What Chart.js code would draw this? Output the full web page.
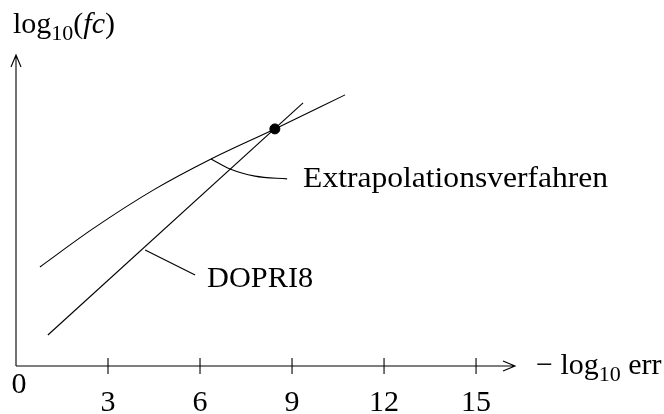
<!DOCTYPE html>
<html>
<head>
<meta charset="utf-8">
<script src="https://cdn.jsdelivr.net/npm/chart.js@4.4.0/dist/chart.umd.min.js"></script>
<style>
  html, body { margin: 0; padding: 0; background: #fff; }
  #wrap { width: 664px; height: 414px; }
</style>
</head>
<body>
<div id="wrap"><canvas id="chart" width="664" height="414"></canvas></div>
<script>
// Werte (x = -log10 err, y = log10(fc))
const xTicks = [3, 6, 9, 12, 15];
const xTickLabels = ['3', '6', '9', '12', '15'];

const dopriX = [1.04, 9.36];
const dopriY = [1.01, 8.58];

const extraX = [0.78, 2.5, 4.5, 6.36, 8.44, 10.73];
const extraY = [3.23, 4.47, 5.75, 6.75, 7.73, 8.84];

// Schnittpunkt
const dotX = [8.44];
const dotY = [7.73];

// Hinweislinien zu den Beschriftungen
const leaderExtraX = [6.36, 6.98, 7.79, 8.84];
const leaderExtraY = [6.75, 6.42, 6.19, 6.10];
const leaderDopriX = [4.21, 5.84];
const leaderDopriY = [3.78, 2.97];

const labelExtra = 'Extrapolationsverfahren';
const labelDopri = 'DOPRI8';

function toPoints(xs, ys) {
    return xs.map((x, i) => ({ x: x, y: ys[i] }));
}

const FONT = '"Liberation Serif", "DejaVu Serif", serif';
const FS = 30;

function lineSet(xs, ys, extra) {
    return Object.assign({
        data: toPoints(xs, ys),
        showLine: true,
        borderColor: '#000',
        borderWidth: 1.1,
        pointRadius: 0,
        fill: false
    }, extra || {});
}

// Text horizontal auf eine Breite strecken (CM-Schrift ist breiter als Times)
function fillStretched(ctx, txt, x, y, width) {
    const w = ctx.measureText(txt).width;
    ctx.save();
    ctx.translate(x, y);
    ctx.scale(width / w, 1);
    ctx.fillText(txt, 0, 0);
    ctx.restore();
}

// Achsen, Pfeile, Ticks und Texte
const axesPlugin = {
    id: 'axesPlugin',
    afterDraw(chart) {
        const ctx = chart.ctx;
        const xs = chart.scales.x;
        const ys = chart.scales.y;
        const x0 = xs.getPixelForValue(0);
        const y0 = ys.getPixelForValue(0);
        const xEnd = xs.getPixelForValue(xs.max);
        const yEnd = ys.getPixelForValue(ys.max);

        ctx.save();
        ctx.strokeStyle = '#000';
        ctx.fillStyle = '#000';
        ctx.lineWidth = 1.1;

        // x-Achse mit Pfeil
        ctx.beginPath();
        ctx.moveTo(x0, y0);
        ctx.lineTo(xEnd, y0);
        ctx.moveTo(xEnd - 12, y0 - 5);
        ctx.lineTo(xEnd, y0);
        ctx.lineTo(xEnd - 12, y0 + 5);
        // y-Achse mit Pfeil
        ctx.moveTo(x0, y0);
        ctx.lineTo(x0, yEnd);
        ctx.moveTo(x0 - 5, yEnd + 12);
        ctx.lineTo(x0, yEnd);
        ctx.lineTo(x0 + 5, yEnd + 12);
        ctx.stroke();

        // Ticks
        ctx.font = FS + 'px ' + FONT;
        ctx.textAlign = 'center';
        ctx.textBaseline = 'alphabetic';
        xTicks.forEach((t, i) => {
            const px = xs.getPixelForValue(t);
            ctx.beginPath();
            ctx.moveTo(px, y0 - 8);
            ctx.lineTo(px, y0 + 8);
            ctx.stroke();
            ctx.fillText(xTickLabels[i], px, y0 + 45);
        });
        ctx.fillText('0', x0 + 3, y0 + 27);

        // Beschriftungen an den Hinweislinien
        ctx.textAlign = 'left';
        const eX = xs.getPixelForValue(leaderExtraX[leaderExtraX.length - 1]);
        const eY = ys.getPixelForValue(leaderExtraY[leaderExtraY.length - 1]);
        fillStretched(ctx, labelExtra, eX + 16, eY + 8, 305);
        const dX = xs.getPixelForValue(leaderDopriX[leaderDopriX.length - 1]);
        const dY = ys.getPixelForValue(leaderDopriY[leaderDopriY.length - 1]);
        fillStretched(ctx, labelDopri, dX + 12, dY + 12, 106);

        // y-Achsentitel: log10(fc)
        let cx = 13;
        const by = 33;
        const reg = FS + 'px ' + FONT;
        const sub = Math.round(FS * 0.72) + 'px ' + FONT;
        const it = 'italic ' + FS + 'px ' + FONT;
        function piece(txt, font, dy) {
            ctx.font = font;
            ctx.fillText(txt, cx, by + (dy || 0));
            cx += ctx.measureText(txt).width;
        }
        piece('log', reg);
        piece('10', sub, 7);
        piece('(', reg);
        piece('fc', it);
        piece(')', reg);

        // x-Achsentitel: − log10 err
        cx = xEnd + 21;
        const by2 = y0 + 8;
        function piece2(txt, font, dy) {
            ctx.font = font;
            ctx.fillText(txt, cx, by2 + (dy || 0));
            cx += ctx.measureText(txt).width;
        }
        piece2('\u2212 log', reg);
        piece2('10', sub, 7);
        piece2(' err', reg);

        ctx.restore();
    }
};

new Chart(document.getElementById('chart'), {
    type: 'scatter',
    data: {
        datasets: [
            lineSet(extraX, extraY, { cubicInterpolationMode: 'monotone' }),
            lineSet(dopriX, dopriY),
            lineSet(leaderExtraX, leaderExtraY, { cubicInterpolationMode: 'monotone' }),
            lineSet(leaderDopriX, leaderDopriY),
            {
                data: toPoints(dotX, dotY),
                pointRadius: 5,
                pointBackgroundColor: '#000',
                pointBorderColor: '#000',
                showLine: false
            }
        ]
    },
    options: {
        responsive: false,
        animation: false,
        layout: { padding: { left: 16, right: 149, top: 55, bottom: 48 } },
        scales: {
            x: { type: 'linear', min: 0, max: 16.27, display: false },
            y: { type: 'linear', min: 0, max: 10.14, display: false }
        },
        plugins: {
            legend: { display: false },
            tooltip: { enabled: false }
        }
    },
    plugins: [axesPlugin]
});
</script>
</body>
</html>
